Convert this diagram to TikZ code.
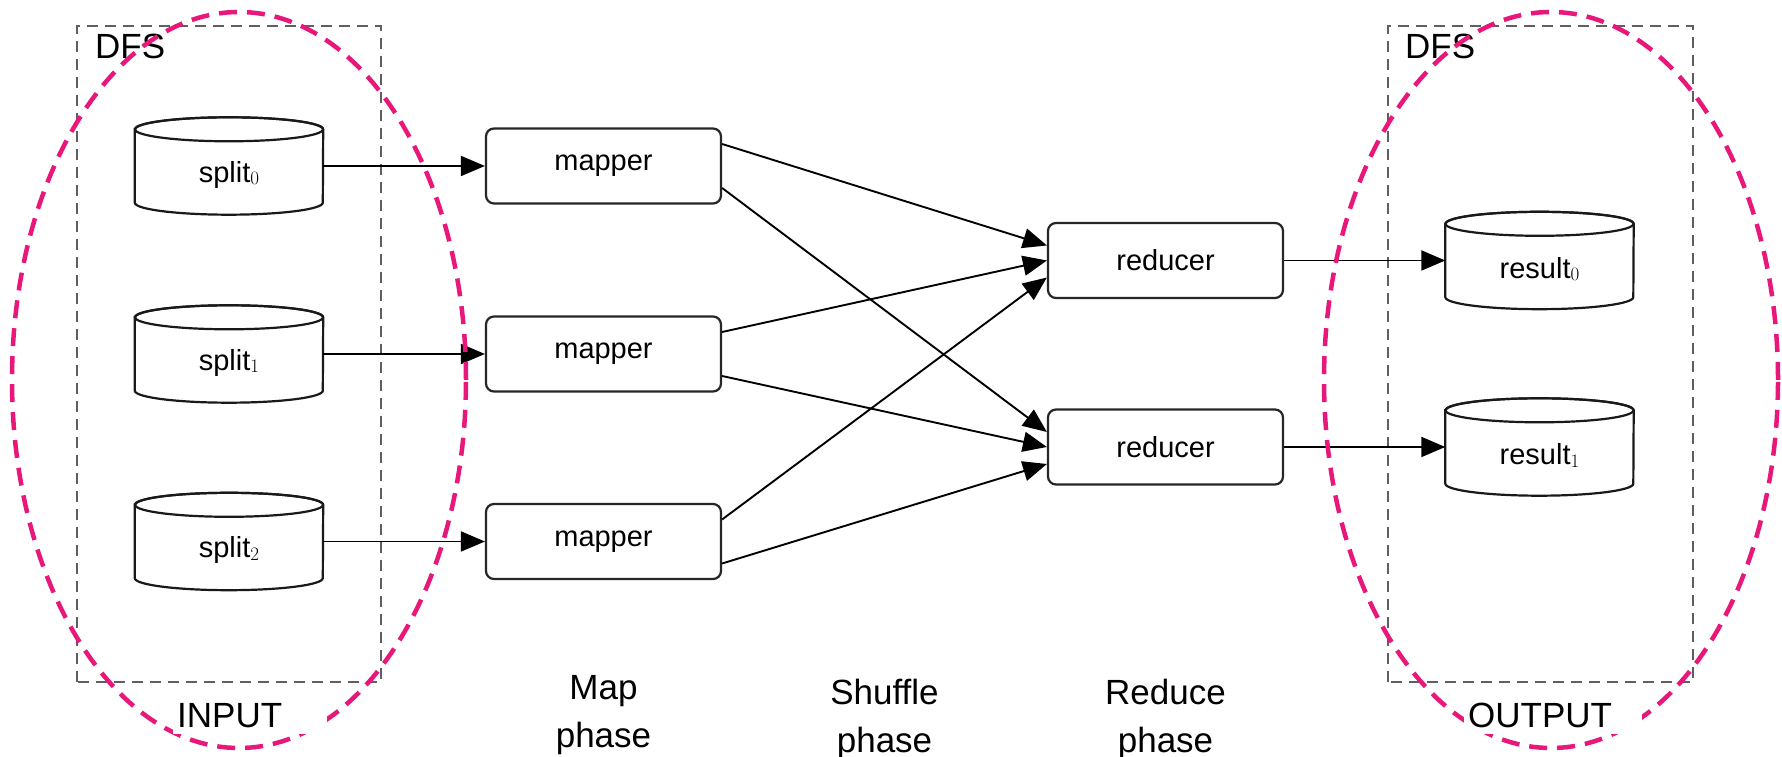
\documentclass[tikz,border=0pt]{standalone}
\usepackage{fontspec}
\setsansfont{Liberation Sans}
\usetikzlibrary{arrows.meta}
\definecolor{pinkc}{RGB}{232,24,122}
\definecolor{boxgray}{RGB}{95,95,95}
\newcommand\subd[1]{\raisebox{-2.5pt}{\rmfamily\fontsize{19}{19}\selectfont #1}}
\newcommand\cylout[1]{%
  \draw[cylline,fill=white] ([yshift=-12pt]#1.north west) -- ([yshift=12pt]#1.south west)
    arc[start angle=180,end angle=360,x radius=94pt,y radius=12pt]
    -- ([yshift=-12pt]#1.north east)
    arc[start angle=0,end angle=180,x radius=94pt,y radius=12pt] -- cycle;
  \draw[cylline] ([yshift=-12pt]#1.north) ellipse[x radius=94pt,y radius=12pt];
}
\tikzset{
  proc/.style={draw=black!85, line width=2.2pt, rounded corners=8pt, fill=white,
    minimum width=235pt, minimum height=75pt, inner sep=0pt,
    font=\sffamily\fontsize{29}{35}\selectfont},
  db/.style={minimum width=188pt, minimum height=97pt, inner sep=0pt},
  dbtxt/.style={inner sep=0pt, anchor=base, font=\sffamily\fontsize{29}{35}\selectfont},
  cylline/.style={draw=black!90, line width=2.2pt},
  dfsbox/.style={draw=boxgray, line width=2.4pt, dash pattern=on 11pt off 7pt},
  flow/.style={-{Triangle[length=24pt,width=20pt]}, line width=1.9pt, draw=black},
  zone/.style={draw=pinkc, line width=4.5pt, dash pattern=on 18pt off 10pt},
  lbl/.style={inner sep=0pt, font=\sffamily\fontsize{35}{48}\selectfont},
}
\begin{document}
\begin{tikzpicture}[x=1pt,y=1pt]
\useasboundingbox (0,0) rectangle (1782,757);
% DFS boxes
\draw[dfsbox] (77,75) rectangle (381,731);
\draw[dfsbox] (1388,75) rectangle (1693,731);
\node[lbl, anchor=west] (dfsL) at (95,711) {DFS};
\node[lbl, anchor=west] (dfsR) at (1405,711) {DFS};
% storage nodes
\node[db] (s0) at (229,591) {};
\node[db] (s1) at (229,403) {};
\node[db] (s2) at (229,215.5) {};
\node[db] (o0) at (1539.5,496.5) {};
\node[db] (o1) at (1539.5,310) {};
\cylout{s0}\cylout{s1}\cylout{s2}\cylout{o0}\cylout{o1}
\node[dbtxt] (s0t) at ([yshift=-16.5pt]s0.center) {split\subd{0}};
\node[dbtxt] (s1t) at ([yshift=-16.5pt]s1.center) {split\subd{1}};
\node[dbtxt] (s2t) at ([yshift=-16.5pt]s2.center) {split\subd{2}};
\node[dbtxt] (o0t) at ([yshift=-18pt]o0.center) {result\subd{0}};
\node[dbtxt] (o1t) at ([yshift=-18pt]o1.center) {result\subd{1}};
% processing nodes
\node[proc] (m0) at (603.5,591) {mapper};
\node[proc] (m1) at (603.5,403) {mapper};
\node[proc] (m2) at (603.5,215.5) {mapper};
\node[proc] (r0) at (1165.5,496.5) {reducer};
\node[proc] (r1) at (1165.5,310) {reducer};
% arrows
\draw[flow] (s0) -- (m0);
\draw[flow] (s1) -- (m1);
\draw[flow] (s2) -- (m2);
\draw[flow] (r0) -- (o0);
\draw[flow] (r1) -- (o1);
\draw[flow] ([yshift=22pt]m0.east) -- ([yshift=15pt]r0.west);
\draw[flow] ([yshift=-22pt]m0.east) -- ([yshift=15pt]r1.west);
\draw[flow] ([yshift=22pt]m1.east) -- ([yshift=0pt]r0.west);
\draw[flow] ([yshift=-22pt]m1.east) -- ([yshift=0pt]r1.west);
\draw[flow] ([yshift=22pt]m2.east) -- ([yshift=-17pt]r0.west);
\draw[flow] ([yshift=-22pt]m2.east) -- ([yshift=-17pt]r1.west);
% phase labels
\node[lbl, align=center, anchor=north] (mapph) at (603.5,82) {Map\\phase};
\node[lbl, align=center, anchor=north] (shufph) at (884.5,78) {Shuffle\\phase};
\node[lbl, align=center, anchor=north] (redph) at (1165.5,78) {Reduce\\phase};
% highlight ellipses
\draw[zone] (239,377) ellipse[x radius=227, y radius=368];
\draw[zone] (1551,377) ellipse[x radius=227, y radius=368];
\node[lbl, fill=white, anchor=west, inner xsep=4pt, inner ysep=6pt, text width=146pt, align=left] (inp) at (173,41.5) {INPUT};
\node[lbl, fill=white, anchor=west, inner xsep=4pt, inner ysep=6pt, text width=170pt, align=left] (outp) at (1464,41.5) {OUTPUT};
\end{tikzpicture}
\end{document}
